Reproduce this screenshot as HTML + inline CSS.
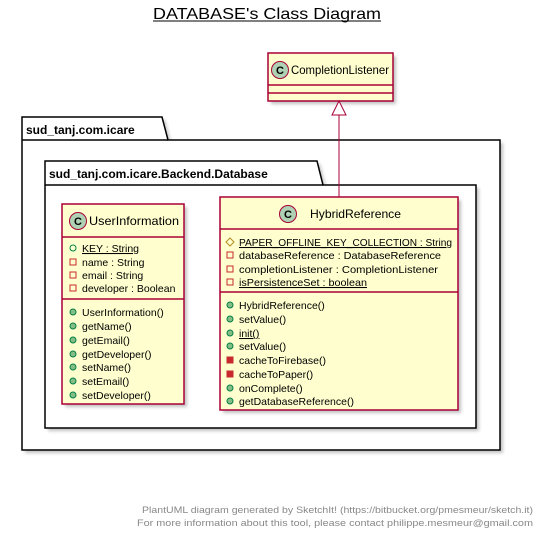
<!DOCTYPE html>
<html><head><meta charset="utf-8"><style>
html,body{margin:0;padding:0;background:#fff;}
svg{display:block;font-family:"Liberation Sans",sans-serif;}
</style></head><body>
<svg width="544" height="537" viewBox="0 0 544 537" xmlns="http://www.w3.org/2000/svg">
<defs><filter id="sh" x="-10%" y="-10%" width="130%" height="130%"><feGaussianBlur stdDeviation="1.5"/></filter></defs>
<text x="153" y="19" font-size="16" textLength="228" lengthAdjust="spacingAndGlyphs">DATABASE's Class Diagram</text>
<line x1="153" y1="21" x2="381" y2="21" stroke="#000" stroke-width="1"/>

<!-- outer package -->
<path d="M25,120 H165 L171,143 H503 V453 H25 Z" fill="#999" filter="url(#sh)" opacity="0.6"/>
<path d="M22,117 H162 L168,140 H500 V450 H22 Z" fill="#fff" stroke="#000" stroke-width="1.5"/>
<line x1="22" y1="140" x2="168" y2="140" stroke="#000" stroke-width="1.5"/>
<text x="26" y="134" font-size="12" font-weight="bold">sud_tanj.com.icare</text>

<!-- inner package -->
<path d="M48,164 H320 L326,188 H479 V431 H48 Z" fill="#999" filter="url(#sh)" opacity="0.6"/>
<path d="M45,161 H317 L323,185 H476 V428 H45 Z" fill="#fff" stroke="#000" stroke-width="1.5"/>
<line x1="45" y1="185" x2="323" y2="185" stroke="#000" stroke-width="1.5"/>
<text x="49" y="178" font-size="12" font-weight="bold">sud_tanj.com.icare.Backend.Database</text>

<!-- CompletionListener -->
<rect x="271" y="56" width="125" height="48" fill="#999" filter="url(#sh)" opacity="0.6"/>
<rect x="268" y="53" width="125" height="48" fill="#FEFECE" stroke="#A80036" stroke-width="1.5"/>
<line x1="268" y1="85" x2="393" y2="85" stroke="#A80036" stroke-width="1.5"/>
<line x1="268" y1="93" x2="393" y2="93" stroke="#A80036" stroke-width="1.5"/>
<circle cx="280" cy="70" r="8.5" fill="#ADD1B2" stroke="#A80036" stroke-width="1"/>
<text x="280" y="74" font-size="11" font-weight="bold" text-anchor="middle">C</text>
<text x="291" y="74" font-size="12" textLength="98" lengthAdjust="spacingAndGlyphs">CompletionListener</text>

<!-- connector -->
<line x1="339" y1="115" x2="339" y2="197" stroke="#A80036" stroke-width="1"/>
<polygon points="339,101 332,115 346,115" fill="#fff" stroke="#A80036" stroke-width="1"/>

<!-- HybridReference -->
<rect x="223" y="200" width="238" height="213" fill="#999" filter="url(#sh)" opacity="0.6"/>
<rect x="220" y="197" width="238" height="213" fill="#FEFECE" stroke="#A80036" stroke-width="1.5"/>
<line x1="220" y1="229" x2="458" y2="229" stroke="#A80036" stroke-width="1.5"/>
<line x1="220" y1="292" x2="458" y2="292" stroke="#A80036" stroke-width="1.5"/>
<circle cx="288" cy="214" r="8.5" fill="#ADD1B2" stroke="#A80036" stroke-width="1"/>
<text x="288" y="218" font-size="11" font-weight="bold" text-anchor="middle">C</text>
<text x="310" y="218" font-size="12" textLength="91" lengthAdjust="spacingAndGlyphs">HybridReference</text>
<g font-size="10.5">
<polygon points="230,238 234,242 230,246 226,242" fill="none" stroke="#B38D22" stroke-width="1"/>
<text x="239" y="246" text-decoration="underline" textLength="213" lengthAdjust="spacingAndGlyphs">PAPER_OFFLINE_KEY_COLLECTION : String</text>
<rect x="227" y="252" width="6" height="6" fill="none" stroke="#C82930"/>
<text x="239" y="259" textLength="202" lengthAdjust="spacingAndGlyphs">databaseReference : DatabaseReference</text>
<rect x="227" y="266" width="6" height="6" fill="none" stroke="#C82930"/>
<text x="239" y="273" textLength="199" lengthAdjust="spacingAndGlyphs">completionListener : CompletionListener</text>
<rect x="227" y="279" width="6" height="6" fill="none" stroke="#C82930"/>
<text x="239" y="286" text-decoration="underline" textLength="128" lengthAdjust="spacingAndGlyphs">isPersistenceSet : boolean</text>
<circle cx="230" cy="305" r="3" fill="#84BE84" stroke="#038048"/><text x="239" y="309">HybridReference()</text>
<circle cx="230" cy="319" r="3" fill="#84BE84" stroke="#038048"/><text x="239" y="323">setValue()</text>
<circle cx="230" cy="333" r="3" fill="#84BE84" stroke="#038048"/><text x="239" y="337" text-decoration="underline">init()</text>
<circle cx="230" cy="346" r="3" fill="#84BE84" stroke="#038048"/><text x="239" y="350">setValue()</text>
<rect x="227" y="357" width="6" height="6" fill="#C82930" stroke="#C82930"/><text x="239" y="364">cacheToFirebase()</text>
<rect x="227" y="371" width="6" height="6" fill="#C82930" stroke="#C82930"/><text x="239" y="378">cacheToPaper()</text>
<circle cx="230" cy="388" r="3" fill="#84BE84" stroke="#038048"/><text x="239" y="392">onComplete()</text>
<circle cx="230" cy="401" r="3" fill="#84BE84" stroke="#038048"/><text x="239" y="405">getDatabaseReference()</text>
</g>

<!-- UserInformation -->
<rect x="65" y="207" width="122" height="200" fill="#999" filter="url(#sh)" opacity="0.6"/>
<rect x="62" y="204" width="122" height="200" fill="#FEFECE" stroke="#A80036" stroke-width="1.5"/>
<line x1="62" y1="237" x2="184" y2="237" stroke="#A80036" stroke-width="1.5"/>
<line x1="62" y1="299" x2="184" y2="299" stroke="#A80036" stroke-width="1.5"/>
<circle cx="78" cy="221" r="8.5" fill="#ADD1B2" stroke="#A80036" stroke-width="1"/>
<text x="78" y="225" font-size="11" font-weight="bold" text-anchor="middle">C</text>
<text x="89" y="225" font-size="12" textLength="90" lengthAdjust="spacingAndGlyphs">UserInformation</text>
<g font-size="10.5">
<circle cx="73" cy="248" r="3" fill="none" stroke="#038048"/><text x="82" y="252" text-decoration="underline">KEY : String</text>
<rect x="70" y="259" width="6" height="6" fill="none" stroke="#C82930"/><text x="82" y="266">name : String</text>
<rect x="70" y="272" width="6" height="6" fill="none" stroke="#C82930"/><text x="82" y="279">email : String</text>
<rect x="70" y="285" width="6" height="6" fill="none" stroke="#C82930"/><text x="82" y="292">developer : Boolean</text>
<circle cx="73" cy="312" r="3" fill="#84BE84" stroke="#038048"/><text x="82" y="316">UserInformation()</text>
<circle cx="73" cy="326" r="3" fill="#84BE84" stroke="#038048"/><text x="82" y="330">getName()</text>
<circle cx="73" cy="340" r="3" fill="#84BE84" stroke="#038048"/><text x="82" y="344">getEmail()</text>
<circle cx="73" cy="354" r="3" fill="#84BE84" stroke="#038048"/><text x="82" y="358">getDeveloper()</text>
<circle cx="73" cy="367" r="3" fill="#84BE84" stroke="#038048"/><text x="82" y="371">setName()</text>
<circle cx="73" cy="381" r="3" fill="#84BE84" stroke="#038048"/><text x="82" y="385">setEmail()</text>
<circle cx="73" cy="395" r="3" fill="#84BE84" stroke="#038048"/><text x="82" y="399">setDeveloper()</text>
</g>

<g font-size="9.5" fill="#888">
<text x="142" y="513" textLength="391" lengthAdjust="spacingAndGlyphs">PlantUML diagram generated by SketchIt! (https://bitbucket.org/pmesmeur/sketch.it)</text>
<text x="137" y="526" textLength="396" lengthAdjust="spacingAndGlyphs">For more information about this tool, please contact philippe.mesmeur@gmail.com</text>
</g>
</svg>
</body></html>
